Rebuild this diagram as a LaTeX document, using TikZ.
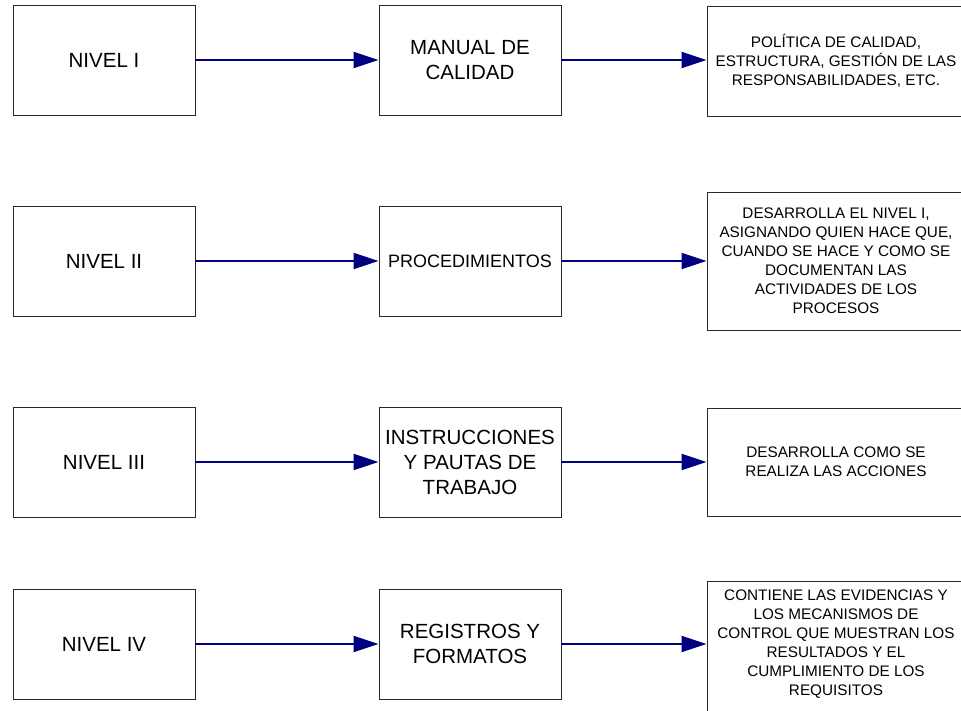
\documentclass[tikz,border=0pt]{standalone}
\usepackage{fontspec}
\setmainfont{Liberation Sans}
\usetikzlibrary{arrows.meta}
\definecolor{flow}{RGB}{0,0,128}
\definecolor{edge}{RGB}{40,40,40}
\tikzset{
  levelbox/.style={draw=edge, line width=0.9pt, fill=white, align=center,
    minimum width=182pt, minimum height=110pt, inner sep=2pt,
    font=\fontsize{20.5}{25}\selectfont},
  descbox/.style={draw=edge, line width=0.9pt, fill=white, align=center,
    minimum width=258pt, inner sep=2pt,
    font=\fontsize{15.3}{19}\selectfont},
  conn/.style={draw=flow, line width=2pt,
    -{Triangle[length=25pt, width=16pt]}}
}
\begin{document}
\begin{tikzpicture}[x=1pt, y=-1pt]
\useasboundingbox (0,0) rectangle (961,710);
\clip (0,0) rectangle (961,710);

% level column
\node[levelbox] (l1) at (104,60) {NIVEL I};
\node[levelbox] (l2) at (104,261) {NIVEL II};
\node[levelbox] (l3) at (104,462) {NIVEL III};
\node[levelbox] (l4) at (104,644) {NIVEL IV};

% document column
\node[levelbox] (m1) at (470,60) {MANUAL DE\\CALIDAD};
\node[levelbox, font=\fontsize{18}{22}\selectfont] (m2) at (470,261) {PROCEDIMIENTOS};
\node[levelbox] (m3) at (470,462) {INSTRUCCIONES\\Y PAUTAS DE\\TRABAJO};
\node[levelbox] (m4) at (470,644) {REGISTROS Y\\FORMATOS};

% description column (runs past the right edge)
\node[descbox, minimum height=110pt] (r1) at (836,61)
  {POLÍTICA DE CALIDAD,\\ESTRUCTURA, GESTIÓN DE LAS\\RESPONSABILIDADES, ETC.};
\node[descbox, minimum height=138pt] (r2) at (836,261)
  {DESARROLLA EL NIVEL I,\\ASIGNANDO QUIEN HACE QUE,\\CUANDO SE HACE Y COMO SE\\DOCUMENTAN LAS\\ACTIVIDADES DE LOS\\PROCESOS};
\node[descbox, minimum height=108pt] (r3) at (836,462)
  {DESARROLLA COMO SE\\REALIZA LAS ACCIONES};
\node[descbox, minimum height=138pt, anchor=north] (r4) at (836,581) {};
\node[align=center, font=\fontsize{15.3}{19}\selectfont] (r4t) at (836,644)
  {CONTIENE LAS EVIDENCIAS Y\\LOS MECANISMOS DE\\CONTROL QUE MUESTRAN LOS\\RESULTADOS Y EL\\CUMPLIMIENTO DE LOS\\REQUISITOS};

% connectors
\foreach \i in {1,2,3,4} {
  \draw[conn] (l\i.east) -- (m\i.west);
  \draw[conn] (m\i.east) -- (m\i.east -| r\i.west);
}
\end{tikzpicture}
\end{document}
